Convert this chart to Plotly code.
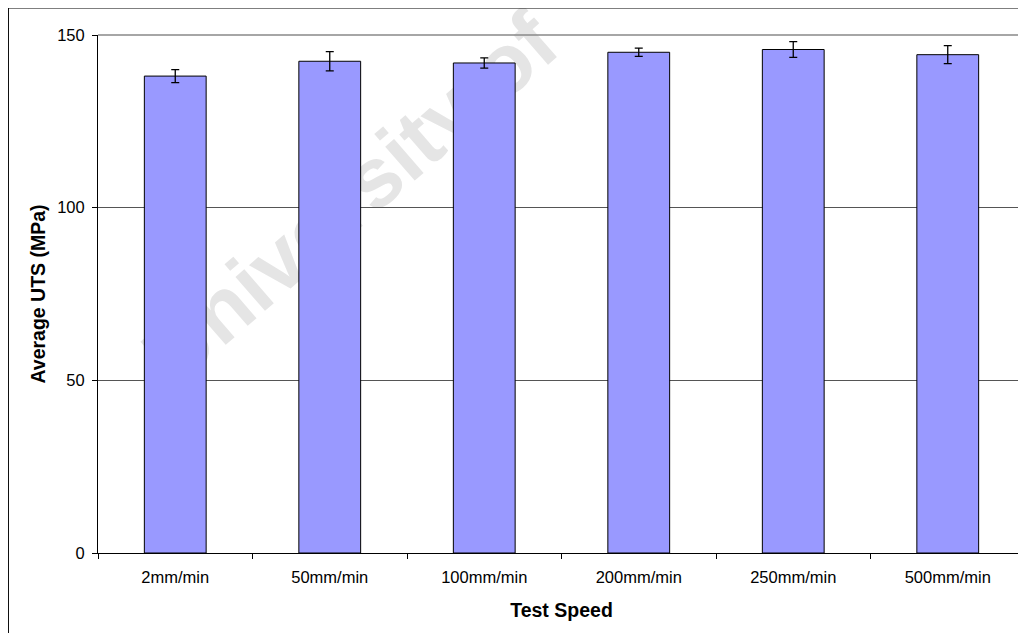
import plotly.graph_objects as go

categories = ["2mm/min", "50mm/min", "100mm/min", "200mm/min", "250mm/min", "500mm/min"]
avg_uts = [138.1, 142.4, 141.9, 145.0, 145.8, 144.3]
err_uts = [1.9, 2.8, 1.5, 1.2, 2.3, 2.6]
y_ticks = [0, 50, 100, 150]
x_title = "Test Speed"
y_title = "Average UTS (MPa)"
watermark = "University of"

FONT = "Liberation Sans, Arial, sans-serif"

fig = go.Figure()
fig.add_trace(go.Bar(
    x=categories, y=avg_uts,
    marker=dict(color="#9999FF", line=dict(color="#000000", width=1)),
    error_y=dict(type="data", array=err_uts, visible=True, color="#000000", thickness=1.3, width=4),
    width=0.4,
    showlegend=False,
))

# page body has an 8px margin, so the figure is sized to end at the window edge
fig.update_layout(
    width=1018, height=625,
    margin=dict(l=90, r=1, t=27, b=80, autoexpand=False),
    paper_bgcolor="white",
    plot_bgcolor="rgba(0,0,0,0)",
    font=dict(family=FONT, color="#000000"),
    xaxis=dict(
        type="category", tickson="boundaries", ticks="outside", ticklen=5, tickcolor="#000",
        showline=True, linecolor="#000", linewidth=1, showgrid=False,
        tickfont=dict(size=16.5, family=FONT), automargin=False,
        ticklabelstandoff=9,
        title=dict(text="<b>%s</b>" % x_title, font=dict(size=19.5, family=FONT), standoff=18),
    ),
    yaxis=dict(
        range=[0, 150], tickvals=y_ticks, ticks="outside", ticklen=5, tickcolor="#000",
        showline=True, linecolor="#000", linewidth=1, showgrid=True, gridcolor="#555555", gridwidth=1,
        zeroline=False, tickfont=dict(size=16.5, family=FONT), automargin=False,
        ticklabelstandoff=4,
        title=dict(text="<b>%s</b>" % y_title, font=dict(size=19.5, family=FONT), standoff=6),
    ),
)

# watermark beneath the plot
fig.add_shape(
    type="rect", xref="paper", yref="paper", x0=0.262, x1=0.270, y0=0.693, y1=0.701,
    line=dict(width=0), fillcolor="rgba(0,0,0,0)", layer="below",
    label=dict(text="<b>%s</b>" % watermark, textangle=-41, textposition="middle center",
               font=dict(size=85, family=FONT, color="#e5e5e5")),
)
# plot-area border (top and right, grey)
fig.add_shape(type="line", xref="paper", yref="paper", x0=0, x1=1, y0=1, y1=1,
              line=dict(color="#888888", width=1.3), layer="above")
fig.add_shape(type="line", xref="paper", yref="paper", x0=1, x1=1, y0=0, y1=1,
              line=dict(color="#bbbbbb", width=1), layer="above")
# chart-area border
fig.add_shape(type="rect", xref="paper", yref="paper", x0=-0.0966, x1=1.5, y0=-0.5, y1=1.0521,
              line=dict(color="#000000", width=1), fillcolor="rgba(0,0,0,0)", layer="above")

fig.write_html("out.html")
